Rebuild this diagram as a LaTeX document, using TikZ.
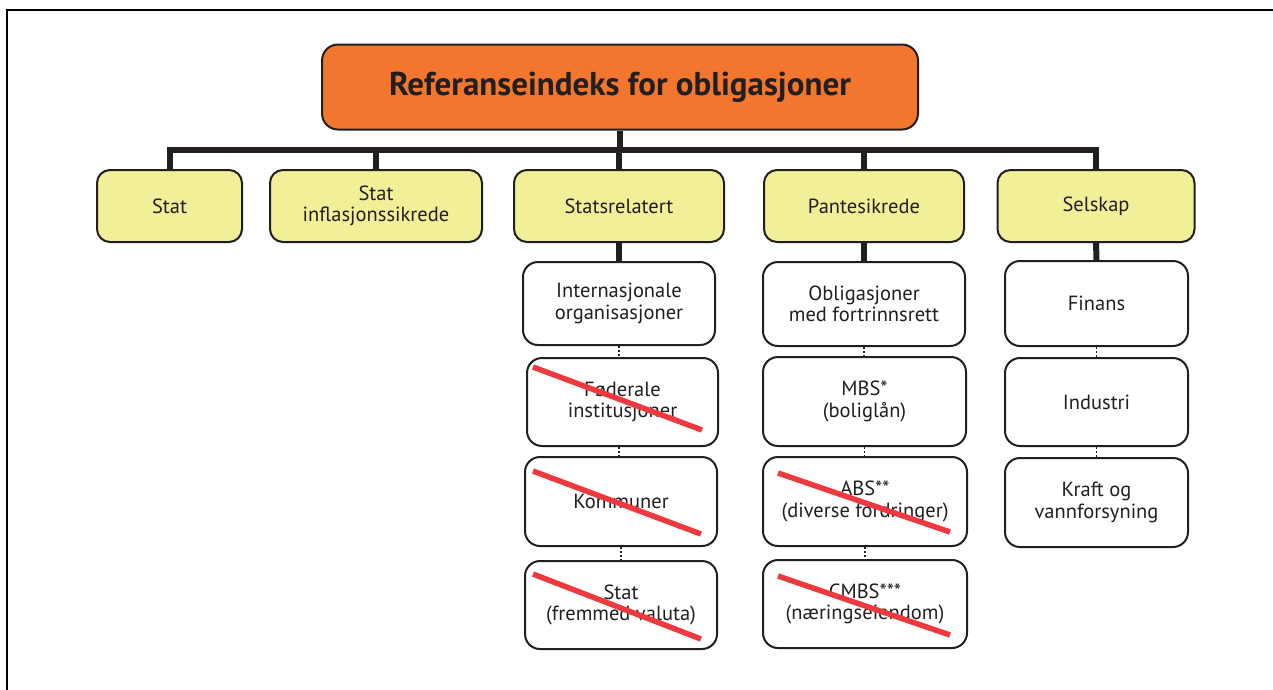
\documentclass[tikz,border=0pt]{standalone}
\usepackage{fontspec}
\setmainfont{PT Sans}
\definecolor{orangefill}{HTML}{F2762E}
\definecolor{yellowfill}{HTML}{F1EF97}
\definecolor{edge}{HTML}{231F20}
\definecolor{strike}{HTML}{EE3A3E}
\tikzset{
  basebox/.style={draw=edge, line width=2pt, rounded corners=13pt, align=center, inner sep=2pt,
    font=\fontsize{20.5}{21.5}\selectfont, text=edge},
  titlebox/.style={basebox, fill=orangefill, rounded corners=16pt, font=\fontsize{33}{35}\selectfont\bfseries},
  catbox/.style={basebox, fill=yellowfill},
  subbox/.style={basebox, fill=white, rounded corners=15pt},
  conn/.style={draw=edge, line width=6pt},
  dotconn/.style={draw=edge, line width=1.8pt, dash pattern=on 2pt off 2pt},
  strikeline/.style={draw=strike, line width=5.5pt}
}
\begin{document}
\begin{tikzpicture}[x=1pt,y=-1pt]
\useasboundingbox (0,0) rectangle (1273,689);
\fill[white] (0,0) rectangle (1273,689);
% frame
\draw[line width=2.6pt, black] (7,700) -- (7,10) -- (1280,10);

% title
\node[titlebox, minimum width=596pt, minimum height=85pt] (title) at (620,87) {Referanseindeks for obligasjoner};

% level 1
\node[catbox, minimum width=145pt, minimum height=72pt] (stat) at (169.5,206) {Stat};
\node[catbox, minimum width=212pt, minimum height=72pt] (infl) at (376,206) {Stat\\inflasjonssikrede};
\node[catbox, minimum width=210pt, minimum height=72pt] (statsrel) at (619,206) {Statsrelatert};
\node[catbox, minimum width=200pt, minimum height=72pt] (pant) at (864,206) {Pantesikrede};
\node[catbox, minimum width=197pt, minimum height=72pt] (selskap) at (1096,206) {Selskap};

% Statsrelatert column
\node[subbox, minimum width=192pt, minimum height=83pt] (intl) at (619,303.5) {Internasjonale\\organisasjoner};
\node[subbox, minimum width=191pt, minimum height=88pt] (fed) at (622.5,402) {Føderale\\institusjoner};
\node[subbox, minimum width=192pt, minimum height=89pt] (komm) at (621,501.5) {Kommuner};
\node[subbox, minimum width=192pt, minimum height=88pt] (statfv) at (621,605) {Stat\\(fremmed valuta)};

% Pantesikrede column
\node[subbox, minimum width=202pt, minimum height=84pt] (oblig) at (864,304) {Obligasjoner\\med fortrinnsrett};
\node[subbox, minimum width=203pt, minimum height=89pt] (mbs) at (864.5,401.5) {MBS*\\(boliglån)};
\node[subbox, minimum width=204pt, minimum height=89pt] (abs) at (865,501.5) {ABS**\\(diverse fordringer)};
\node[subbox, minimum width=204pt, minimum height=88pt] (cmbs) at (865,604) {CMBS***\\(næringseiendom)};

% Selskap column
\node[subbox, minimum width=183pt, minimum height=85pt] (finans) at (1096.5,303.5) {Finans};
\node[subbox, minimum width=183pt, minimum height=88pt] (industri) at (1096.5,402) {Industri};
\node[subbox, minimum width=183pt, minimum height=89pt] (kraft) at (1096.5,502.5) {Kraft og\\vannforsyning};

% bar coordinate
\coordinate (bar) at (620,150);

% connectors
\draw[conn] (title.south) -- (bar);
\draw[conn, line join=miter] (stat.north) |- (bar) -| (selskap.north);
\draw[conn] (infl.north) -- (infl.north |- bar);
\draw[conn] (statsrel.north) -- (statsrel.north |- bar);
\draw[conn] (pant.north) -- (pant.north |- bar);

\draw[conn] (statsrel.south) -- (intl.north);
\draw[conn] (pant.south) -- (oblig.north);
\draw[conn] (selskap.south) -- (finans.north);

\draw[dotconn] (intl.south) -- (intl.south |- fed.north);
\draw[dotconn] (fed.south -| intl.south) -- (intl.south |- komm.north);
\draw[dotconn] (komm.south) -- (statfv.north);
\draw[dotconn] (oblig.south) -- (oblig.south |- mbs.north);
\draw[dotconn] (mbs.south) -- (mbs.south |- abs.north);
\draw[dotconn] (abs.south) -- (cmbs.north);
\draw[dotconn] (finans.south) -- (industri.north);
\draw[dotconn] (industri.south) -- (kraft.north);

% strike-throughs
\draw[strikeline] (533,367) -- (702,430);
\draw[strikeline] (533,471) -- (701,534);
\draw[strikeline] (533,574) -- (701,639);
\draw[strikeline] (778,473) -- (950,532);
\draw[strikeline] (778,576) -- (950,635);
\end{tikzpicture}
\end{document}
